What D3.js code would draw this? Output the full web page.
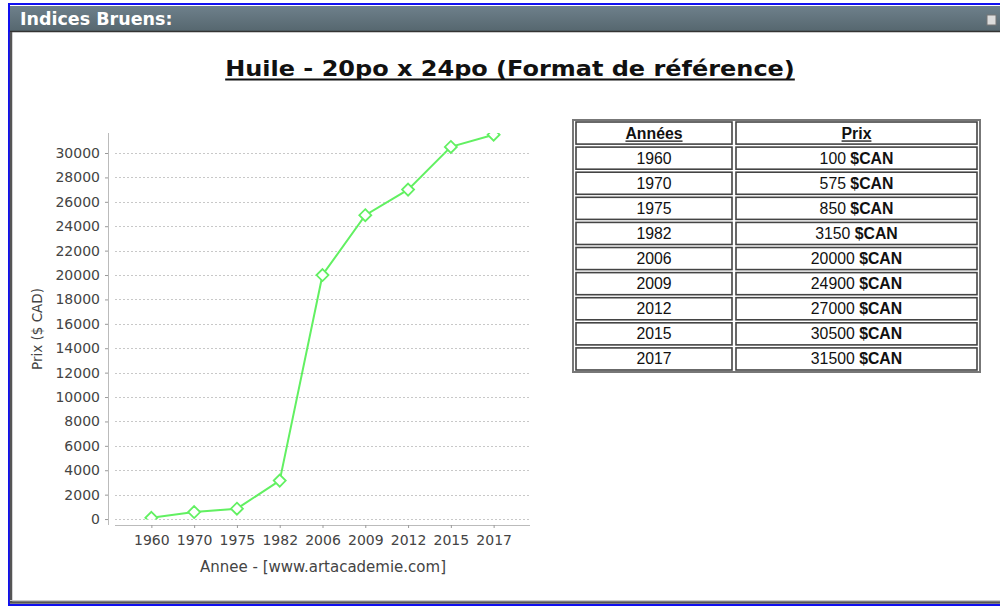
<!DOCTYPE html>
<html>
<head>
<meta charset="utf-8">
<script src="https://cdn.jsdelivr.net/npm/d3@7"></script>
<style>
  body { margin: 0; background: #fff; }
  svg { display: block; }
</style>
</head>
<body>
<svg id="chart" width="1000" height="607"></svg>
<script>
const years = ['1960', '1970', '1975', '1982', '2006', '2009', '2012', '2015', '2017'];
const prices = [100, 575, 850, 3150, 20000, 24900, 27000, 30500, 31500];
const yTicks = [0, 2000, 4000, 6000, 8000, 10000, 12000, 14000, 16000, 18000, 20000, 22000, 24000, 26000, 28000, 30000];
const tableHeaders = ['Années', 'Prix'];

const svg = d3.select('#chart');
const green = '#62f062';

// panel frame
svg.append('rect').attr('x', 0).attr('y', 0).attr('width', 1000).attr('height', 607).attr('fill', '#fff');
svg.append('rect').attr('x', 9).attr('y', 4).attr('width', 1000).attr('height', 601)
  .attr('fill', 'none').attr('stroke', '#1010f0').attr('stroke-width', 2);

const grad = svg.append('defs').append('linearGradient').attr('id', 'hdr')
  .attr('x1', 0).attr('y1', 0).attr('x2', 0).attr('y2', 1);
grad.append('stop').attr('offset', '0%').attr('stop-color', '#6e808b');
grad.append('stop').attr('offset', '100%').attr('stop-color', '#56676f');

svg.append('rect').attr('x', 10).attr('y', 6).attr('width', 990).attr('height', 25).attr('fill', 'url(#hdr)');
svg.append('line').attr('x1', 10).attr('x2', 1000).attr('y1', 31.5).attr('y2', 31.5).attr('stroke', '#333').attr('stroke-width', 1.5);
svg.append('text').attr('x', 20).attr('y', 25)
  .attr('font-family', 'DejaVu Sans').attr('font-weight', 'bold').attr('font-size', 17.5)
  .attr('fill', '#fff').text('Indices Bruens:');
svg.append('rect').attr('x', 987).attr('y', 15).attr('width', 9).attr('height', 10)
  .attr('fill', '#dcdcdc').attr('stroke', '#777').attr('stroke-width', 1);

// inner panel borders
svg.append('line').attr('x1', 11).attr('x2', 11).attr('y1', 32).attr('y2', 603).attr('stroke', '#555').attr('stroke-width', 2.5);
svg.append('line').attr('x1', 10).attr('x2', 1000).attr('y1', 602.5).attr('y2', 602.5).attr('stroke', '#555').attr('stroke-width', 2.5);
svg.append('line').attr('x1', 10).attr('x2', 1000).attr('y1', 600.5).attr('y2', 600.5).attr('stroke', '#ccc').attr('stroke-width', 1);

// title (slightly stretched like the source screenshot)
const title = svg.append('text').attr('text-anchor', 'middle')
  .attr('transform', 'translate(510,76) scale(1.17,1)')
  .attr('font-family', 'DejaVu Sans').attr('font-weight', 'bold').attr('font-size', 20.5)
  .attr('fill', '#111').text('Huile - 20po x 24po (Format de référence)');
const tw = title.node().getComputedTextLength() * 1.17;
svg.append('line').attr('x1', 510 - tw / 2).attr('x2', 510 + tw / 2).attr('y1', 79.5).attr('y2', 79.5)
  .attr('stroke', '#111').attr('stroke-width', 2);

// chart
const x = d3.scalePoint().domain(years).range([115, 530]).padding(0.85);
const y = d3.scaleLinear().domain([-160, 31640]).range([521, 133]);

svg.append('clipPath').attr('id', 'plot').append('rect')
  .attr('x', 112).attr('y', 133).attr('width', 420).attr('height', 386.5);

const grid = svg.append('g');
grid.selectAll('line').data(yTicks).enter().append('line')
  .attr('x1', 115).attr('x2', 530)
  .attr('y1', d => Math.round(y(d)) + 0.5).attr('y2', d => Math.round(y(d)) + 0.5)
  .attr('stroke', '#c8c8c8').attr('stroke-width', 1).attr('stroke-dasharray', '2,2');

const yAxis = svg.append('g').attr('transform', 'translate(108,0)')
  .call(d3.axisLeft(y).tickValues(yTicks).tickSize(3).tickPadding(5).tickFormat(d3.format('d')));
yAxis.select('.domain').attr('d', 'M0.5,133V525').attr('stroke', '#bbb');
yAxis.selectAll('.tick line').attr('stroke', '#999');
yAxis.selectAll('text').attr('font-family', 'DejaVu Sans').attr('font-size', 14).attr('fill', '#444');

const xAxis = svg.append('g').attr('transform', 'translate(0,525)')
  .call(d3.axisBottom(x).tickSize(3).tickPadding(7));
xAxis.select('.domain').attr('d', 'M115,0.5H530').attr('stroke', '#bbb');
xAxis.selectAll('.tick line').attr('stroke', '#999');
xAxis.selectAll('text').attr('font-family', 'DejaVu Sans').attr('font-size', 14).attr('fill', '#444');

svg.append('text').attr('x', 323).attr('y', 572).attr('text-anchor', 'middle')
  .attr('font-family', 'DejaVu Sans').attr('font-size', 15).attr('fill', '#444')
  .text('Annee - [www.artacademie.com]');
svg.append('text').attr('transform', 'translate(42,329) rotate(-90)').attr('text-anchor', 'middle')
  .attr('font-family', 'DejaVu Sans').attr('font-size', 13.5).attr('fill', '#444')
  .text('Prix ($ CAD)');

const plot = svg.append('g').attr('clip-path', 'url(#plot)');
const line = d3.line().x((d, i) => x(years[i])).y(d => y(d));
plot.append('path').datum(prices).attr('d', line)
  .attr('fill', 'none').attr('stroke', green).attr('stroke-width', 2);
plot.selectAll('.pt').data(prices).enter().append('path')
  .attr('transform', (d, i) => `translate(${x(years[i])},${y(d)})`)
  .attr('d', 'M0,-6L6,0L0,6L-6,0Z')
  .attr('fill', '#fff').attr('stroke', green).attr('stroke-width', 1.8);

// table
const rowKeys = ['head'].concat(years);
const rows = d3.scaleBand().domain(rowKeys).range([121, 371]).paddingInner(0.12).paddingOuter(0.04);
const colX = { year: [576, 732], price: [736, 977] };

svg.append('rect').attr('x', 573).attr('y', 120).attr('width', 407).attr('height', 252)
  .attr('fill', '#fff').attr('stroke', '#777').attr('stroke-width', 2);

const tbl = svg.append('g');
const tFont = 15.8;
rowKeys.forEach((r, ri) => {
  ['year', 'price'].forEach(c => {
    tbl.append('rect')
      .attr('x', colX[c][0]).attr('y', rows(r))
      .attr('width', colX[c][1] - colX[c][0]).attr('height', rows.bandwidth())
      .attr('fill', '#fff').attr('stroke', '#444').attr('stroke-width', 1.6);
  });
  const cy = rows(r) + rows.bandwidth() / 2 + 5.5;
  if (r === 'head') {
    tableHeaders.forEach((h, hi) => {
      const c = hi === 0 ? 'year' : 'price';
      const cx = (colX[c][0] + colX[c][1]) / 2;
      const t = tbl.append('text').attr('x', cx).attr('y', cy).attr('text-anchor', 'middle')
        .attr('font-family', 'Liberation Sans').attr('font-weight', 'bold').attr('font-size', tFont)
        .attr('fill', '#111').text(h);
      const w = t.node().getComputedTextLength();
      tbl.append('line').attr('x1', cx - w / 2).attr('x2', cx + w / 2).attr('y1', cy + 2.5).attr('y2', cy + 2.5)
        .attr('stroke', '#111').attr('stroke-width', 1.3);
    });
  } else {
    const i = ri - 1;
    tbl.append('text').attr('x', (colX.year[0] + colX.year[1]) / 2).attr('y', cy).attr('text-anchor', 'middle')
      .attr('font-family', 'Liberation Sans').attr('font-size', tFont).attr('fill', '#111').text(years[i]);
    const t = tbl.append('text').attr('x', (colX.price[0] + colX.price[1]) / 2).attr('y', cy).attr('text-anchor', 'middle')
      .attr('font-family', 'Liberation Sans').attr('font-size', tFont).attr('fill', '#111');
    t.append('tspan').text(prices[i] + ' ');
    t.append('tspan').attr('font-weight', 'bold').text('$CAN');
  }
});
</script>
</body>
</html>
